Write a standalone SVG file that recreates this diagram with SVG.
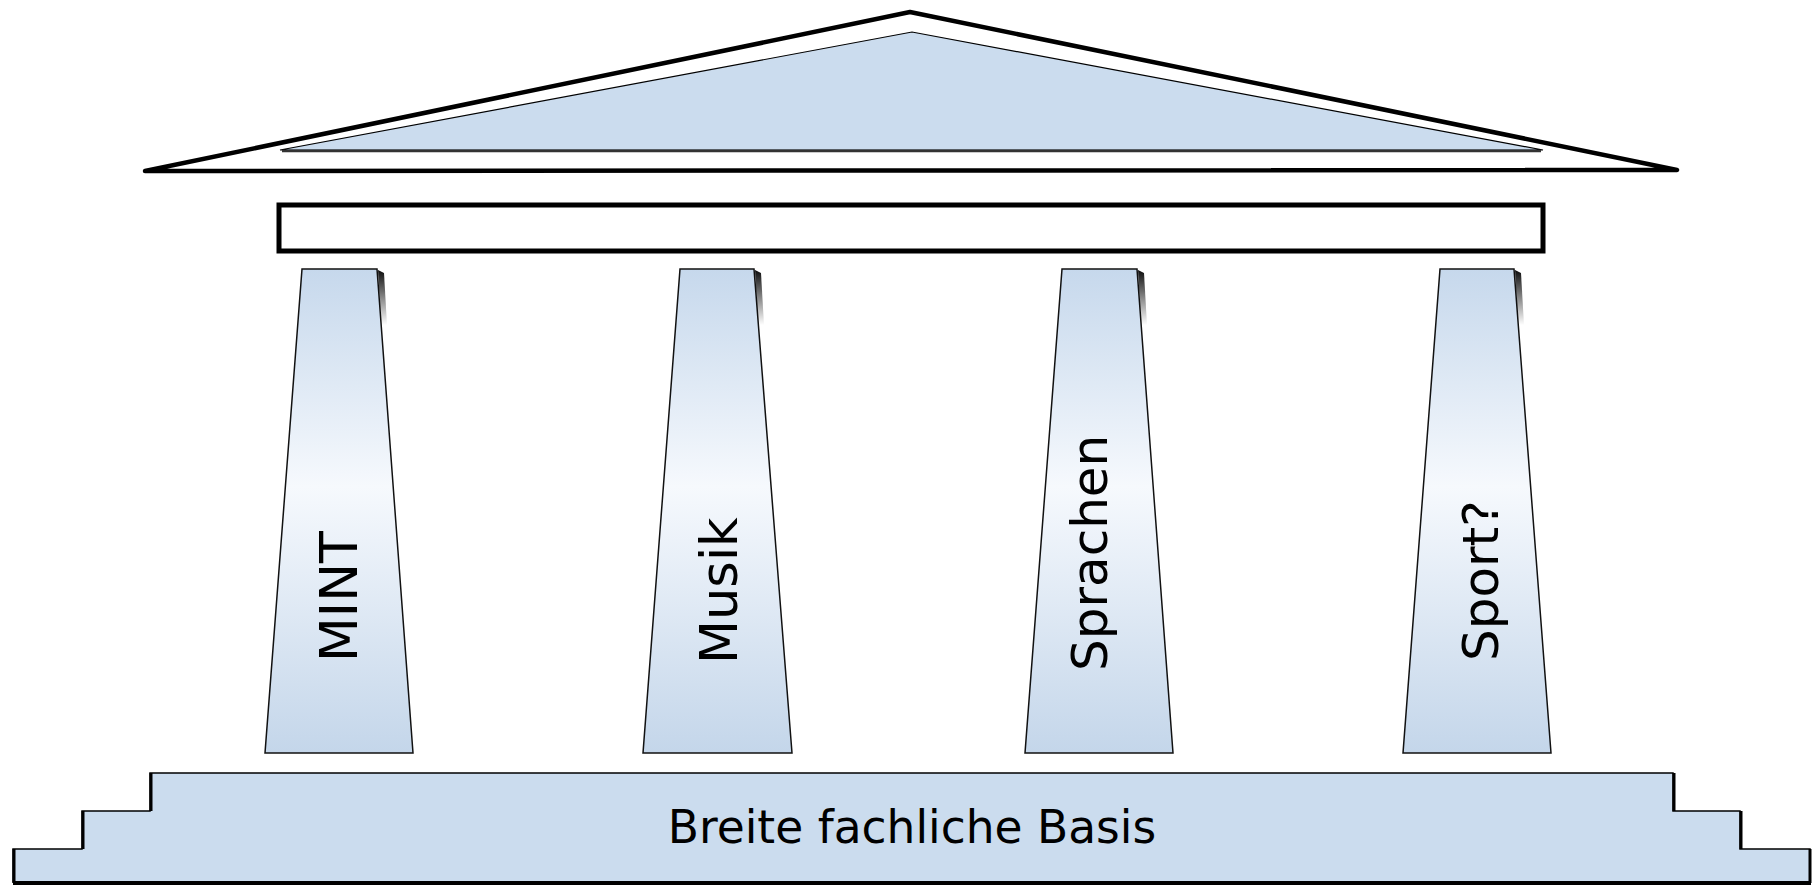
<svg xmlns="http://www.w3.org/2000/svg" width="1818" height="886" viewBox="0 0 1818 886">
<style>
.lbl{font-family:"DejaVu Sans","Verdana",sans-serif;fill:#000}
.col{fill:url(#colGrad);stroke:#111;stroke-width:1.5}
.shade{fill:url(#shadeGrad)}
</style>
<defs>
<linearGradient id="colGrad" x1="0" y1="0" x2="0" y2="1">
<stop offset="0" stop-color="#c6d8ec"/>
<stop offset="0.45" stop-color="#f6f9fd"/>
<stop offset="1" stop-color="#c4d6ea"/>
</linearGradient>
<linearGradient id="shadeGrad" x1="0" y1="0" x2="0" y2="1">
<stop offset="0" stop-color="#000" stop-opacity="0.95"/>
<stop offset="1" stop-color="#000" stop-opacity="0"/>
</linearGradient>
</defs>
<rect width="1818" height="886" fill="#fff"/>

<g id="roof">
<polygon points="145,171 910,12 1677,170" fill="#fff" stroke="#000" stroke-width="4.5" stroke-linejoin="round"/>
<polygon points="280,150 912,32 1543,150" fill="#cbdcee" stroke="#000" stroke-width="1.2"/>
<line x1="282" y1="151" x2="1541" y2="151" stroke="#333" stroke-width="2.5"/>
</g>

<g id="beam">
<rect x="279" y="205" width="1264" height="46" fill="#fff" stroke="#000" stroke-width="5"/>
</g>

<g id="pillar-mint">
<polygon class="col" points="302,269 377,269 413,753 265,753"/>
<polygon class="shade" points="378,270 384,273 387,325 381,325"/>
<text class="lbl" font-size="52" transform="translate(357,662) rotate(-90)">MINT</text>
</g>

<g id="pillar-musik">
<polygon class="col" points="680,269 754,269 792,753 643,753"/>
<polygon class="shade" points="755,270 761,273 764,325 758,325"/>
<text class="lbl" font-size="51" transform="translate(737,664) rotate(-90)">Musik</text>
</g>

<g id="pillar-sprachen">
<polygon class="col" points="1062,269 1137,269 1173,753 1025,753"/>
<polygon class="shade" points="1138,270 1144,273 1147,325 1141,325"/>
<text class="lbl" font-size="50" transform="translate(1107,671) rotate(-90)">Sprachen</text>
</g>

<g id="pillar-sport">
<polygon class="col" points="1440,269 1514,269 1551,753 1403,753"/>
<polygon class="shade" points="1515,270 1521,273 1524,325 1518,325"/>
<text class="lbl" font-size="50" transform="translate(1498,661) rotate(-90)">Sport?</text>
</g>

<g id="base">
<polygon points="13,882 13,849 82,849 82,811 150,811 150,773 1673,773 1673,811 1740,811 1740,849 1810,849 1810,882" fill="#cbdcee" stroke="#000" stroke-width="1.5"/>
<g stroke="#000" stroke-width="3">
<line x1="14" y1="849" x2="14" y2="883"/>
<line x1="83" y1="811" x2="83" y2="849"/>
<line x1="151" y1="773" x2="151" y2="811"/>
<line x1="1674" y1="773" x2="1674" y2="811"/>
<line x1="1741" y1="811" x2="1741" y2="849"/>
<line x1="1810" y1="849" x2="1810" y2="883"/>
</g>
<line x1="13" y1="883" x2="1811" y2="883" stroke="#000" stroke-width="4"/>
<text class="lbl" font-size="45.5" x="912" y="843" text-anchor="middle">Breite fachliche Basis</text>
</g>
</svg>
